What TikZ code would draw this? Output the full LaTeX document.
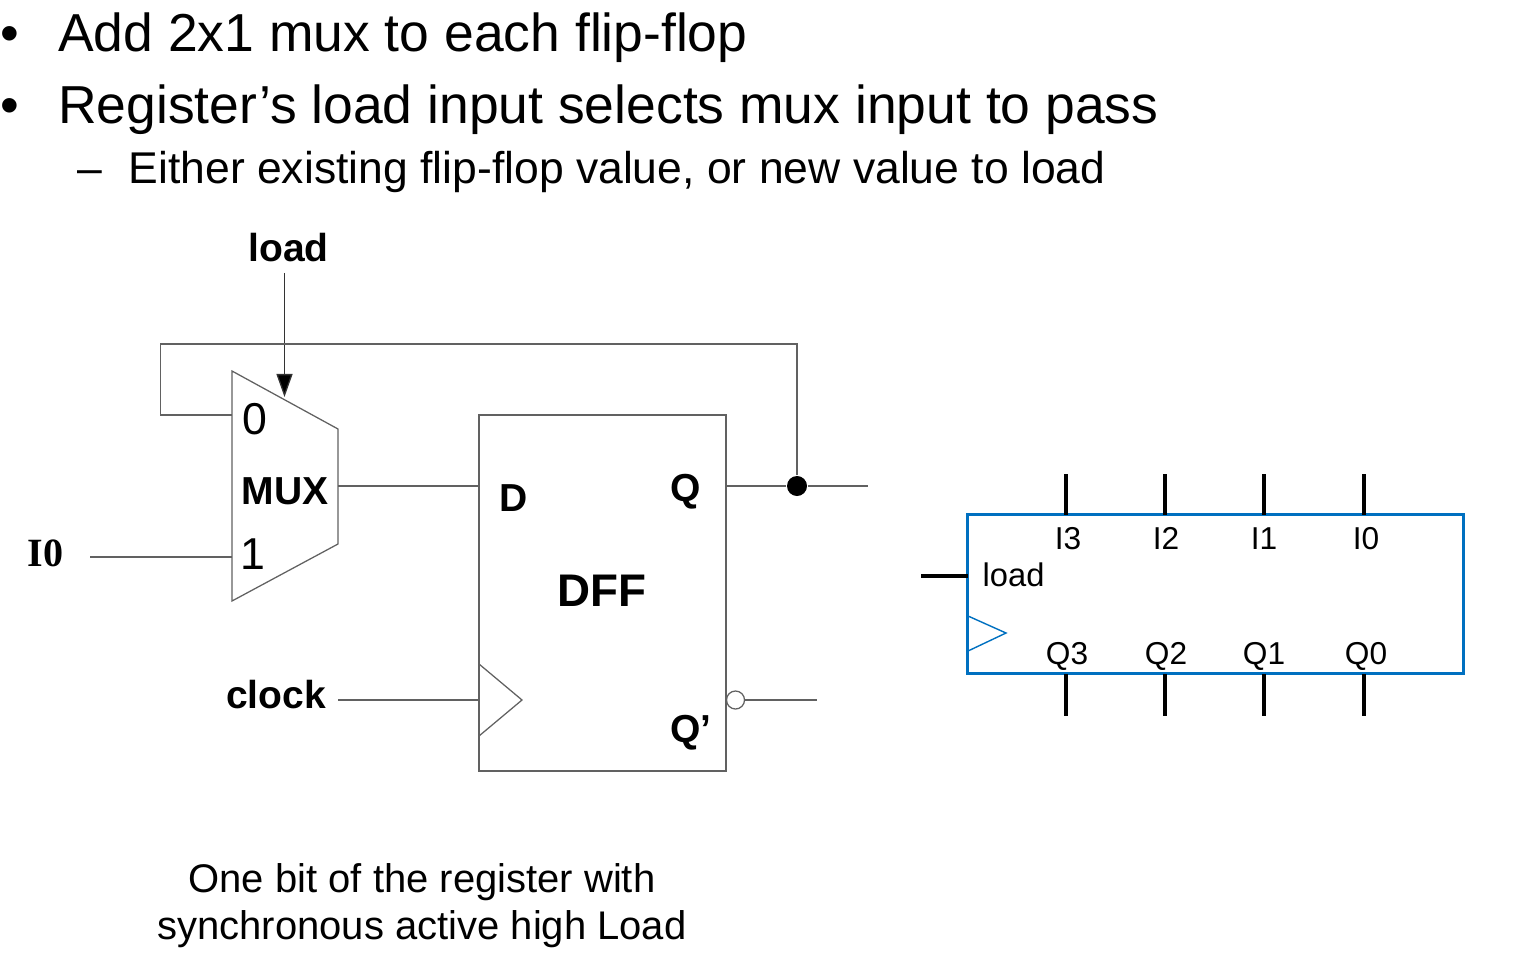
\documentclass[tikz,border=0pt]{standalone}
\usepackage{fontspec}
\setmainfont{Liberation Sans}
\newfontfamily\serifbold{Liberation Serif}
\usetikzlibrary{arrows.meta}
\definecolor{regblue}{RGB}{0,112,192}
\tikzset{
  wire/.style = {draw=black!62, line width=0.36pt},
  pin/.style = {draw=black, line width=0.9pt},
  title/.style = {anchor=base west, inner sep=0pt, font=\fontsize{15.2pt}{18pt}\selectfont},
  subtitle/.style = {anchor=base west, inner sep=0pt, font=\fontsize{12.65pt}{15pt}\selectfont},
  muxdigit/.style = {inner sep=0pt, font=\fontsize{12.7pt}{15pt}\selectfont},
  bold/.style = {inner sep=0pt, font=\fontsize{11.1pt}{13pt}\selectfont\bfseries},
  reglabel/.style = {anchor=base, inner sep=0pt, font=\fontsize{9pt}{11pt}\selectfont},
}
\begin{document}
\begin{tikzpicture}[x=0.01cm,y=-0.01cm]
\useasboundingbox (0,0) rectangle (1513,958);
% text at the top
\node[title] (b1) at (0,52) {•};
\node[title] (t1) at (57.5,52) {Add 2x1 mux to each flip-flop};
\node[title] (b2) at (0,124) {•};
\node[title] (t2) at (57.5,124) {Register’s load input selects mux input to pass};
\node[subtitle] (d3) at (77,184) {–};
\node[subtitle] (t3) at (128,184) {Either existing flip-flop value, or new value to load};
% mux
\draw[wire] (232,371) coordinate (m1) -- (338,429) coordinate (m2) -- (338,544) coordinate (m3) -- (232,601) coordinate (m4) -- cycle;
\node[muxdigit] (zero) at (255,419) {0};
\node[muxdigit] (one) at (252.5,554) {1};
\node[bold] (mux) at (285,491) {MUX};
% flip-flop
\node[wire, minimum width=2.47cm, minimum height=3.56cm, inner sep=0pt] (dff) at (602.5,593) {};
\node[inner sep=0pt, font=\fontsize{13pt}{15pt}\selectfont\bfseries] (dfflabel) at (602,591) {DFF};
\node[bold] (d) at (514,498) {D};
\node[bold] (q) at (686,492) {Q};
\node[bold] (qn) at (691,733) {Q’};
\draw[wire] (479,664) coordinate (c1) -- (522,700) -- (479,736) coordinate (c2);
\node[wire, circle, inner sep=0pt, minimum size=0.18cm, fill=white] (bubble) at (735.5,700) {};
% signals
\node[bold] (load) at (288.5,248) {load};
\node[bold] (clock) at (276,695) {clock};
\node[inner sep=0pt, font=\fontsize{11.4pt}{13pt}\selectfont\serifbold\bfseries] (i0) at (45.5,553) {I0};
\coordinate (loadstart) at (284.5,273);
\coordinate (loadend) at (284.5,397);
\coordinate (i0start) at (90,557);
\coordinate (i0end) at (232,557);
\coordinate (muxout) at (338,486);
\coordinate (din) at (479,486);
\coordinate (qout) at (727,486);
\coordinate (qend) at (868,486);
\coordinate (clkstart) at (338,700);
\coordinate (clkend) at (479,700);
\coordinate (qnend) at (817,700);
\coordinate (muxback) at (232,415);
\node[circle, fill=black, inner sep=0pt, minimum size=0.2cm] (dot) at (797,486) {};
\draw[draw=black!80, line width=0.36pt, -{Triangle[length=0.23cm,width=0.16cm,fill=black]}] (loadstart) -- (loadend);
\draw[wire] (i0start) -- (i0end);
\draw[wire] (muxout) -- (din);
\draw[wire] (qout) -- (dot);
\draw[wire] (dot) -- (qend);
\draw[wire] (clkstart) -- (clkend);
\draw[wire] (bubble) -- (qnend);
\draw[wire] (dot) -- (797,344) -- (160.5,344) -- (160.5,415) -- (muxback);
% caption
\node[align=center, inner sep=0pt, font=\fontsize{11.37pt}{13.5pt}\selectfont] (caption) at (422,905.5) {One bit of the register with\\synchronous active high Load};
% register block
\node[draw=regblue, line width=0.7pt, minimum width=4.96cm, minimum height=1.59cm, inner sep=0pt] (reg) at (1215.5,594) {};
\draw[draw=regblue, line width=0.4pt] (968,616) -- (1006,633) -- (968,651);
\foreach \x/\n/\lx/\qx in {1066/3/1068/1067, 1165/2/1166/1166, 1264/1/1264/1264, 1364/0/1366/1366} {
  \draw[pin] (\x,474) -- (\x,515);
  \draw[pin] (\x,674) -- (\x,716);
  \node[reglabel] (i\n) at (\lx,549) {I\n};
  \node[reglabel] (q\n) at (\qx,664) {Q\n};
}
\draw[pin] (921,576) -- (968,576);
\node[reglabel, anchor=base west, font=\fontsize{9.3pt}{11pt}\selectfont] (regload) at (982,586) {load};
\end{tikzpicture}
\end{document}
